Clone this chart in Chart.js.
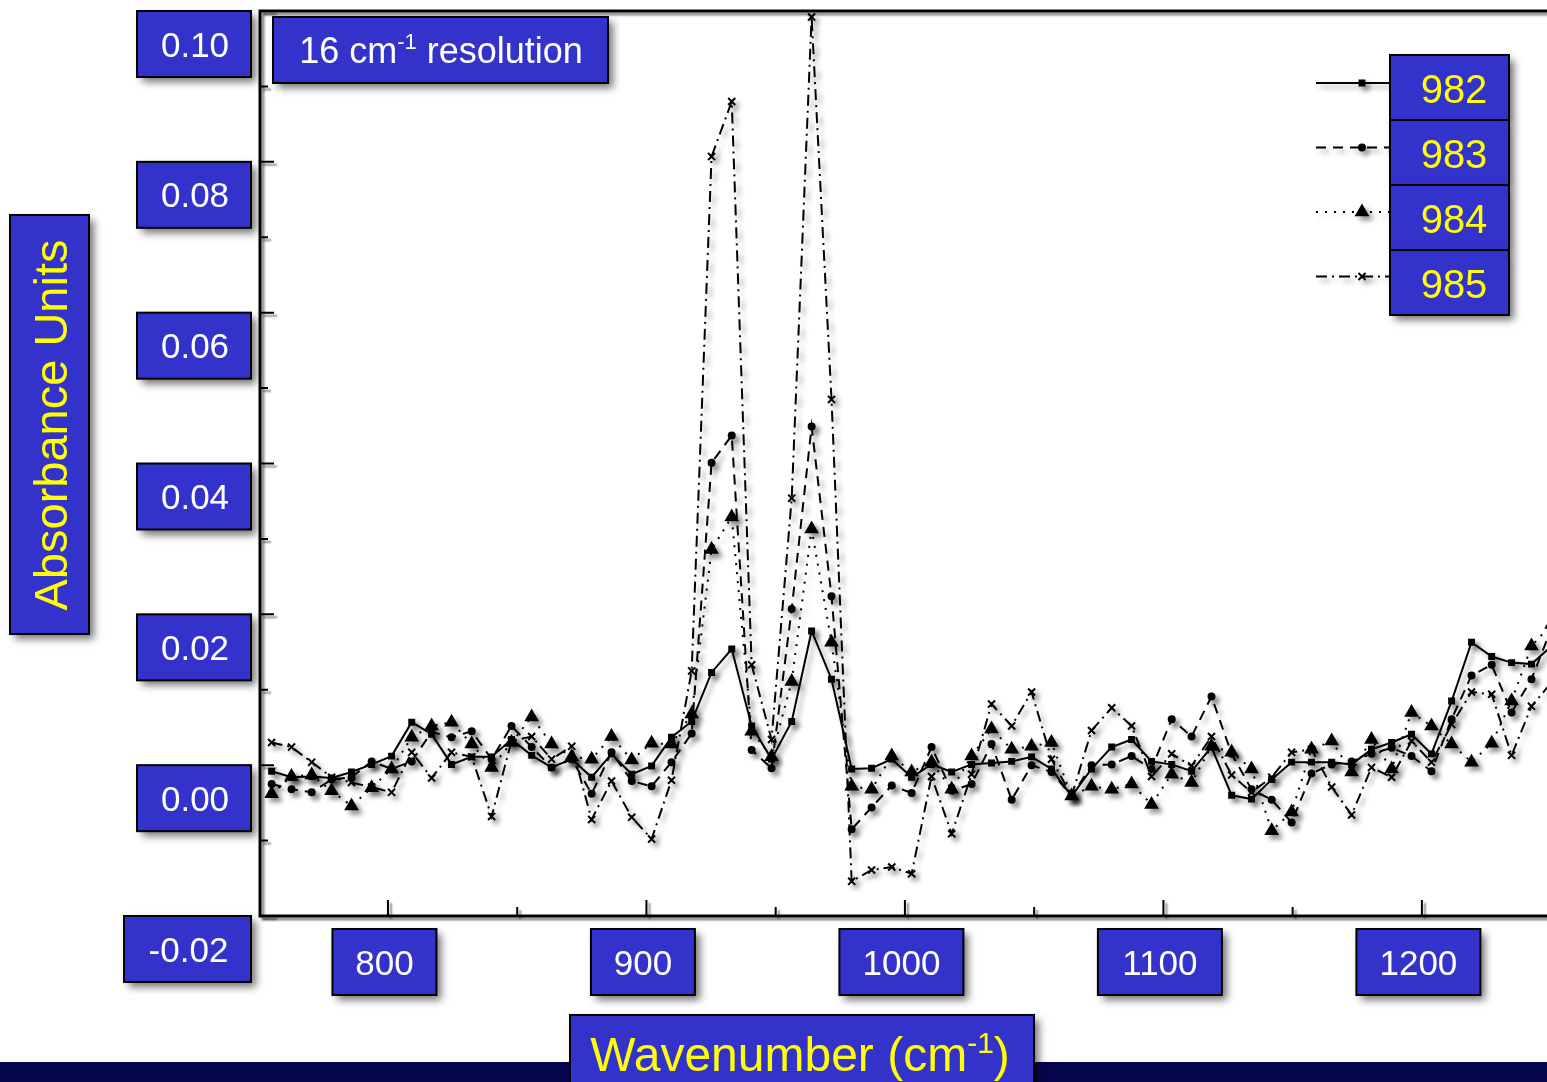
<!DOCTYPE html>
<html>
<head>
<meta charset="utf-8">
<title>16 cm-1 resolution</title>
<script src="https://cdn.jsdelivr.net/npm/chart.js@4.4.1/dist/chart.umd.min.js"></script>
<style>
  html, body { margin: 0; padding: 0; background: #fff; overflow: hidden; }
  #wrap { width: 1547px; height: 1082px; }
</style>
</head>
<body>
<div id="wrap"><canvas id="spectrum" width="1547" height="1082"></canvas></div>
<script>
// wavenumber (cm-1) of each sample point
const wavenumbers = [
  755.0, 762.7, 770.5, 778.2, 785.9, 793.7, 801.4, 809.2, 816.9, 824.6,
  832.4, 840.1, 847.8, 855.6, 863.3, 871.1, 878.8, 886.5, 894.3, 902.0,
  909.7, 917.5, 925.2, 933.0, 940.7, 948.4, 956.2, 963.9, 971.6, 979.4,
  987.1, 994.9, 1002.6, 1010.3, 1018.1, 1025.8, 1033.5, 1041.3, 1049.0, 1056.7,
  1064.5, 1072.2, 1080.0, 1087.7, 1095.4, 1103.2, 1110.9, 1118.6, 1126.4, 1134.1,
  1141.9, 1149.6, 1157.3, 1165.1, 1172.8, 1180.5, 1188.3, 1196.0, 1203.7, 1211.5,
  1219.2, 1227.0, 1234.7, 1242.4, 1250.2
];

const abs982 = [
  -0.0008, -0.0016, -0.0015, -0.0017, -0.0009, 0.0001, 0.0012, 0.0057, 0.0041, 0.0001,
  0.0011, 0.0011, 0.0034, 0.0013, -0.0003, 0.0008, -0.0016, 0.0015, -0.0012, -0.0001,
  0.0037, 0.0058, 0.0123, 0.0154, 0.0052, 0.0008, 0.0058, 0.0178, 0.0114, -0.0005,
  -0.0004, 0.0008, -0.0016, 0.0001, -0.0009, 0.0001, 0.0003, 0.0005, 0.0011, -0.0005,
  -0.0041, -0.0005, 0.0024, 0.0034, 0.0005, 0.0001, -0.0008, 0.0024, -0.0040, -0.0045,
  -0.0019, 0.0004, 0.0004, 0.0004, 0.0001, 0.0021, 0.0030, 0.0041, 0.0015, 0.0085,
  0.0163, 0.0144, 0.0136, 0.0134, 0.0158
];

const abs983 = [
  -0.0025, -0.0032, -0.0036, -0.0019, -0.0016, 0.0005, -0.0005, 0.0005, 0.0044, 0.0037,
  0.0045, 0.0008, 0.0052, 0.0024, -0.0003, 0.0008, -0.0038, 0.0017, -0.0021, -0.0028,
  0.0004, 0.0042, 0.0401, 0.0437, 0.0020, -0.0004, 0.0207, 0.0449, 0.0224, -0.0085,
  -0.0056, -0.0027, -0.0037, 0.0024, -0.0034, -0.0025, 0.0028, -0.0046, 0.0000, -0.0009,
  -0.0041, 0.0000, 0.0001, 0.0012, -0.0005, 0.0061, 0.0038, 0.0091, 0.0015, -0.0032,
  -0.0046, -0.0076, -0.0011, 0.0001, 0.0005, 0.0015, 0.0023, 0.0012, -0.0008, 0.0061,
  0.0119, 0.0133, 0.0070, 0.0114, 0.0182
];

const abs984 = [
  -0.0038, -0.0015, -0.0013, -0.0034, -0.0054, -0.0030, -0.0005, 0.0037, 0.0052, 0.0057,
  0.0028, -0.0003, 0.0030, 0.0064, 0.0028, 0.0011, 0.0008, 0.0038, 0.0007, 0.0029,
  0.0028, 0.0068, 0.0286, 0.0329, 0.0045, 0.0011, 0.0111, 0.0313, 0.0163, -0.0028,
  -0.0032, 0.0012, -0.0009, 0.0004, -0.0032, 0.0012, 0.0048, 0.0021, 0.0025, 0.0030,
  -0.0041, -0.0028, -0.0032, -0.0025, -0.0052, -0.0012, -0.0023, 0.0025, 0.0017, -0.0005,
  -0.0087, -0.0062, 0.0021, 0.0032, -0.0009, 0.0034, -0.0005, 0.0070, 0.0052, 0.0028,
  0.0004, 0.0029, 0.0085, 0.0158, 0.0187
];

const abs985 = [
  0.0030, 0.0024, 0.0004, -0.0016, -0.0023, -0.0029, -0.0036, 0.0017, -0.0017, 0.0017,
  0.0011, -0.0068, 0.0032, 0.0038, 0.0008, 0.0025, -0.0072, -0.0021, -0.0069, -0.0098,
  -0.0020, 0.0125, 0.0807, 0.0880, 0.0133, 0.0034, 0.0354, 0.0992, 0.0485, -0.0154,
  -0.0139, -0.0135, -0.0144, -0.0015, -0.0091, -0.0012, 0.0081, 0.0052, 0.0097, 0.0008,
  -0.0041, 0.0046, 0.0076, 0.0052, -0.0015, 0.0015, -0.0001, 0.0038, -0.0013, -0.0036,
  -0.0016, 0.0017, 0.0021, -0.0029, -0.0066, -0.0003, -0.0016, 0.0032, 0.0004, 0.0054,
  0.0097, 0.0094, 0.0013, 0.0078, 0.0110
];

const seriesNames = ['982', '983', '984', '985'];
const yTickValues = [0.10, 0.08, 0.06, 0.04, 0.02, 0.00, -0.02];
const yTickLabels = ['0.10', '0.08', '0.06', '0.04', '0.02', '0.00', '-0.02'];
const xTickValues = [800, 900, 1000, 1100, 1200];
const xTickLabels = ['800', '900', '1000', '1100', '1200'];

const allSeries = [abs982, abs983, abs984, abs985];

// line look for each series
const lineStyles = [
  { dash: [], point: 'rect', radius: 3.5 },
  { dash: [10, 7], point: 'circle', radius: 3 },
  { dash: [2, 7], point: 'triangle', radius: 6.5 },
  { dash: [11, 5, 2, 5], point: 'crossRot', radius: 5 }
];

const FONT = '"Liberation Sans", Arial, Helvetica, sans-serif';
const BOX_BLUE = '#3333cc';
const YELLOW = '#ffff00';

function drawBox(ctx, x, y, w, h) {
  ctx.save();
  ctx.shadowColor = 'rgba(0,0,0,0.55)';
  ctx.shadowBlur = 8;
  ctx.shadowOffsetX = 5;
  ctx.shadowOffsetY = 5;
  ctx.fillStyle = BOX_BLUE;
  ctx.fillRect(x, y, w, h);
  ctx.restore();
  ctx.save();
  ctx.lineWidth = 2;
  ctx.strokeStyle = '#000';
  ctx.strokeRect(x, y, w, h);
  ctx.restore();
}

// draws text made of parts, some of them superscript, centred on cx/cy
function drawText(ctx, parts, cx, cy, size, color) {
  ctx.save();
  ctx.fillStyle = color;
  ctx.textBaseline = 'alphabetic';
  ctx.textAlign = 'left';
  let total = 0;
  parts.forEach(p => {
    ctx.font = (p.sup ? Math.round(size * 0.62) : size) + 'px ' + FONT;
    p.w = ctx.measureText(p.t).width;
    total += p.w;
  });
  let x = cx - total / 2;
  const base = cy + size * 0.36;
  parts.forEach(p => {
    ctx.font = (p.sup ? Math.round(size * 0.62) : size) + 'px ' + FONT;
    ctx.fillText(p.t, x, p.sup ? base - size * 0.38 : base);
    x += p.w;
  });
  ctx.restore();
}

function drawMarker(ctx, style, x, y) {
  ctx.save();
  ctx.fillStyle = '#000';
  ctx.strokeStyle = '#000';
  ctx.lineWidth = 2;
  ctx.setLineDash([]);
  if (Chart.helpers && Chart.helpers.drawPoint) {
    Chart.helpers.drawPoint(ctx, { pointStyle: style.point, radius: style.radius, rotation: 0, borderWidth: 2 }, x, y);
  }
  ctx.restore();
}

const decor = {
  id: 'decor',
  beforeDraw(chart) {
    const ctx = chart.ctx;
    ctx.save();
    ctx.fillStyle = '#fff';
    ctx.fillRect(0, 0, chart.width, chart.height);
    ctx.restore();
  },
  beforeDatasetsDraw(chart) {
    const { ctx, chartArea: a, scales: { x, y } } = chart;
    ctx.save();
    ctx.shadowColor = 'rgba(0,0,0,0.45)';
    ctx.shadowBlur = 2;
    ctx.shadowOffsetX = 3;
    ctx.shadowOffsetY = 3;
    ctx.strokeStyle = '#000';
    ctx.lineWidth = 3;
    ctx.beginPath();
    ctx.moveTo(a.right + 10, a.top);
    ctx.lineTo(a.left, a.top);
    ctx.lineTo(a.left, a.bottom);
    ctx.lineTo(a.right + 10, a.bottom);
    ctx.stroke();

    // inward tick marks
    ctx.lineWidth = 2;
    ctx.beginPath();
    for (let v = -2; v <= 10; v++) {
      const py = y.getPixelForValue(v / 100);
      const len = v % 2 === 0 ? 14 : 8;
      ctx.moveTo(a.left, py);
      ctx.lineTo(a.left + len, py);
    }
    for (let w = 800; w <= 1200; w += 50) {
      const px = x.getPixelForValue(w);
      const len = w % 100 === 0 ? 16 : 9;
      ctx.moveTo(px, a.bottom);
      ctx.lineTo(px, a.bottom - len);
    }
    ctx.stroke();
    ctx.restore();

    // shadow under the spectra
    ctx.save();
    ctx.shadowColor = 'rgba(0,0,0,0.38)';
    ctx.shadowBlur = 5;
    ctx.shadowOffsetX = 4;
    ctx.shadowOffsetY = 4;
  },
  afterDatasetsDraw(chart) {
    const { ctx, chartArea: a, scales: { x, y } } = chart;
    ctx.restore();

    // y tick label boxes, top edge on the tick
    yTickValues.forEach((v, i) => {
      const py = y.getPixelForValue(v);
      const w = yTickLabels[i].length > 4 ? 127 : 114;
      const bx = a.left - 9 - w;
      drawBox(ctx, bx, py, w, 66);
      drawText(ctx, [{ t: yTickLabels[i] }], bx + w / 2 + 1, py + 33, 35, '#fff');
    });

    // x tick label boxes
    xTickValues.forEach((v, i) => {
      const px = x.getPixelForValue(v) - 3.5;
      const w = xTickLabels[i].length > 3 ? 124 : 104;
      drawBox(ctx, px - w / 2, 929, w, 66);
      drawText(ctx, [{ t: xTickLabels[i] }], px, 962, 35, '#fff');
    });

    // title box
    drawBox(ctx, 273, 17, 335, 66);
    drawText(ctx, [{ t: '16 cm' }, { t: '-1', sup: true }, { t: ' resolution' }], 441, 50, 36, '#fff');

    // legend
    chart.data.datasets.forEach((ds, i) => {
      const st = lineStyles[i];
      const ly = 83 + i * 64.5;
      ctx.save();
      ctx.shadowColor = 'rgba(0,0,0,0.35)';
      ctx.shadowBlur = 5;
      ctx.shadowOffsetX = 4;
      ctx.shadowOffsetY = 4;
      ctx.strokeStyle = '#000';
      ctx.lineWidth = 2;
      ctx.setLineDash(st.dash);
      ctx.beginPath();
      ctx.moveTo(1316, ly);
      ctx.lineTo(1390, ly);
      ctx.stroke();
      drawMarker(ctx, st, 1362, ly);
      ctx.restore();
    });
    seriesNames.forEach((name, i) => {
      drawBox(ctx, 1390, 55 + i * 65, 119, 65);
      drawText(ctx, [{ t: name }], 1454, 89 + i * 65, 40, YELLOW);
    });

    // bottom navy band
    ctx.save();
    ctx.fillStyle = '#06064f';
    ctx.fillRect(0, 1062, chart.width, 20);
    ctx.restore();

    // axis titles
    drawBox(ctx, 570, 1015, 464, 90);
    drawText(ctx, [{ t: 'Wavenumber (cm' }, { t: '-1', sup: true }, { t: ')' }], 800, 1054, 48, YELLOW);

    drawBox(ctx, 10, 215, 79, 419);
    ctx.save();
    ctx.translate(50, 425);
    ctx.rotate(-Math.PI / 2);
    drawText(ctx, [{ t: 'Absorbance Units' }], 0, 0, 47, YELLOW);
    ctx.restore();
  }
};

const datasets = allSeries.map((values, i) => ({
  label: seriesNames[i],
  data: wavenumbers.map((w, k) => ({ x: w, y: values[k] })),
  borderColor: '#000',
  backgroundColor: '#000',
  borderWidth: 2,
  borderDash: lineStyles[i].dash,
  pointStyle: lineStyles[i].point,
  pointRadius: lineStyles[i].radius,
  pointBorderWidth: 2,
  pointBorderColor: '#000',
  pointBackgroundColor: '#000',
  tension: 0,
  fill: false
}));

new Chart(document.getElementById('spectrum'), {
  type: 'line',
  data: { datasets: datasets },
  options: {
    responsive: false,
    animation: false,
    devicePixelRatio: 1,
    events: [],
    layout: { autoPadding: false, padding: { left: 260, top: 11, right: 0, bottom: 166 } },
    scales: {
      x: { type: 'linear', min: 750.5, max: 1248.4, display: false },
      y: { type: 'linear', min: -0.02, max: 0.10, display: false }
    },
    plugins: {
      legend: { display: false },
      tooltip: { enabled: false }
    }
  },
  plugins: [decor]
});
</script>
</body>
</html>
